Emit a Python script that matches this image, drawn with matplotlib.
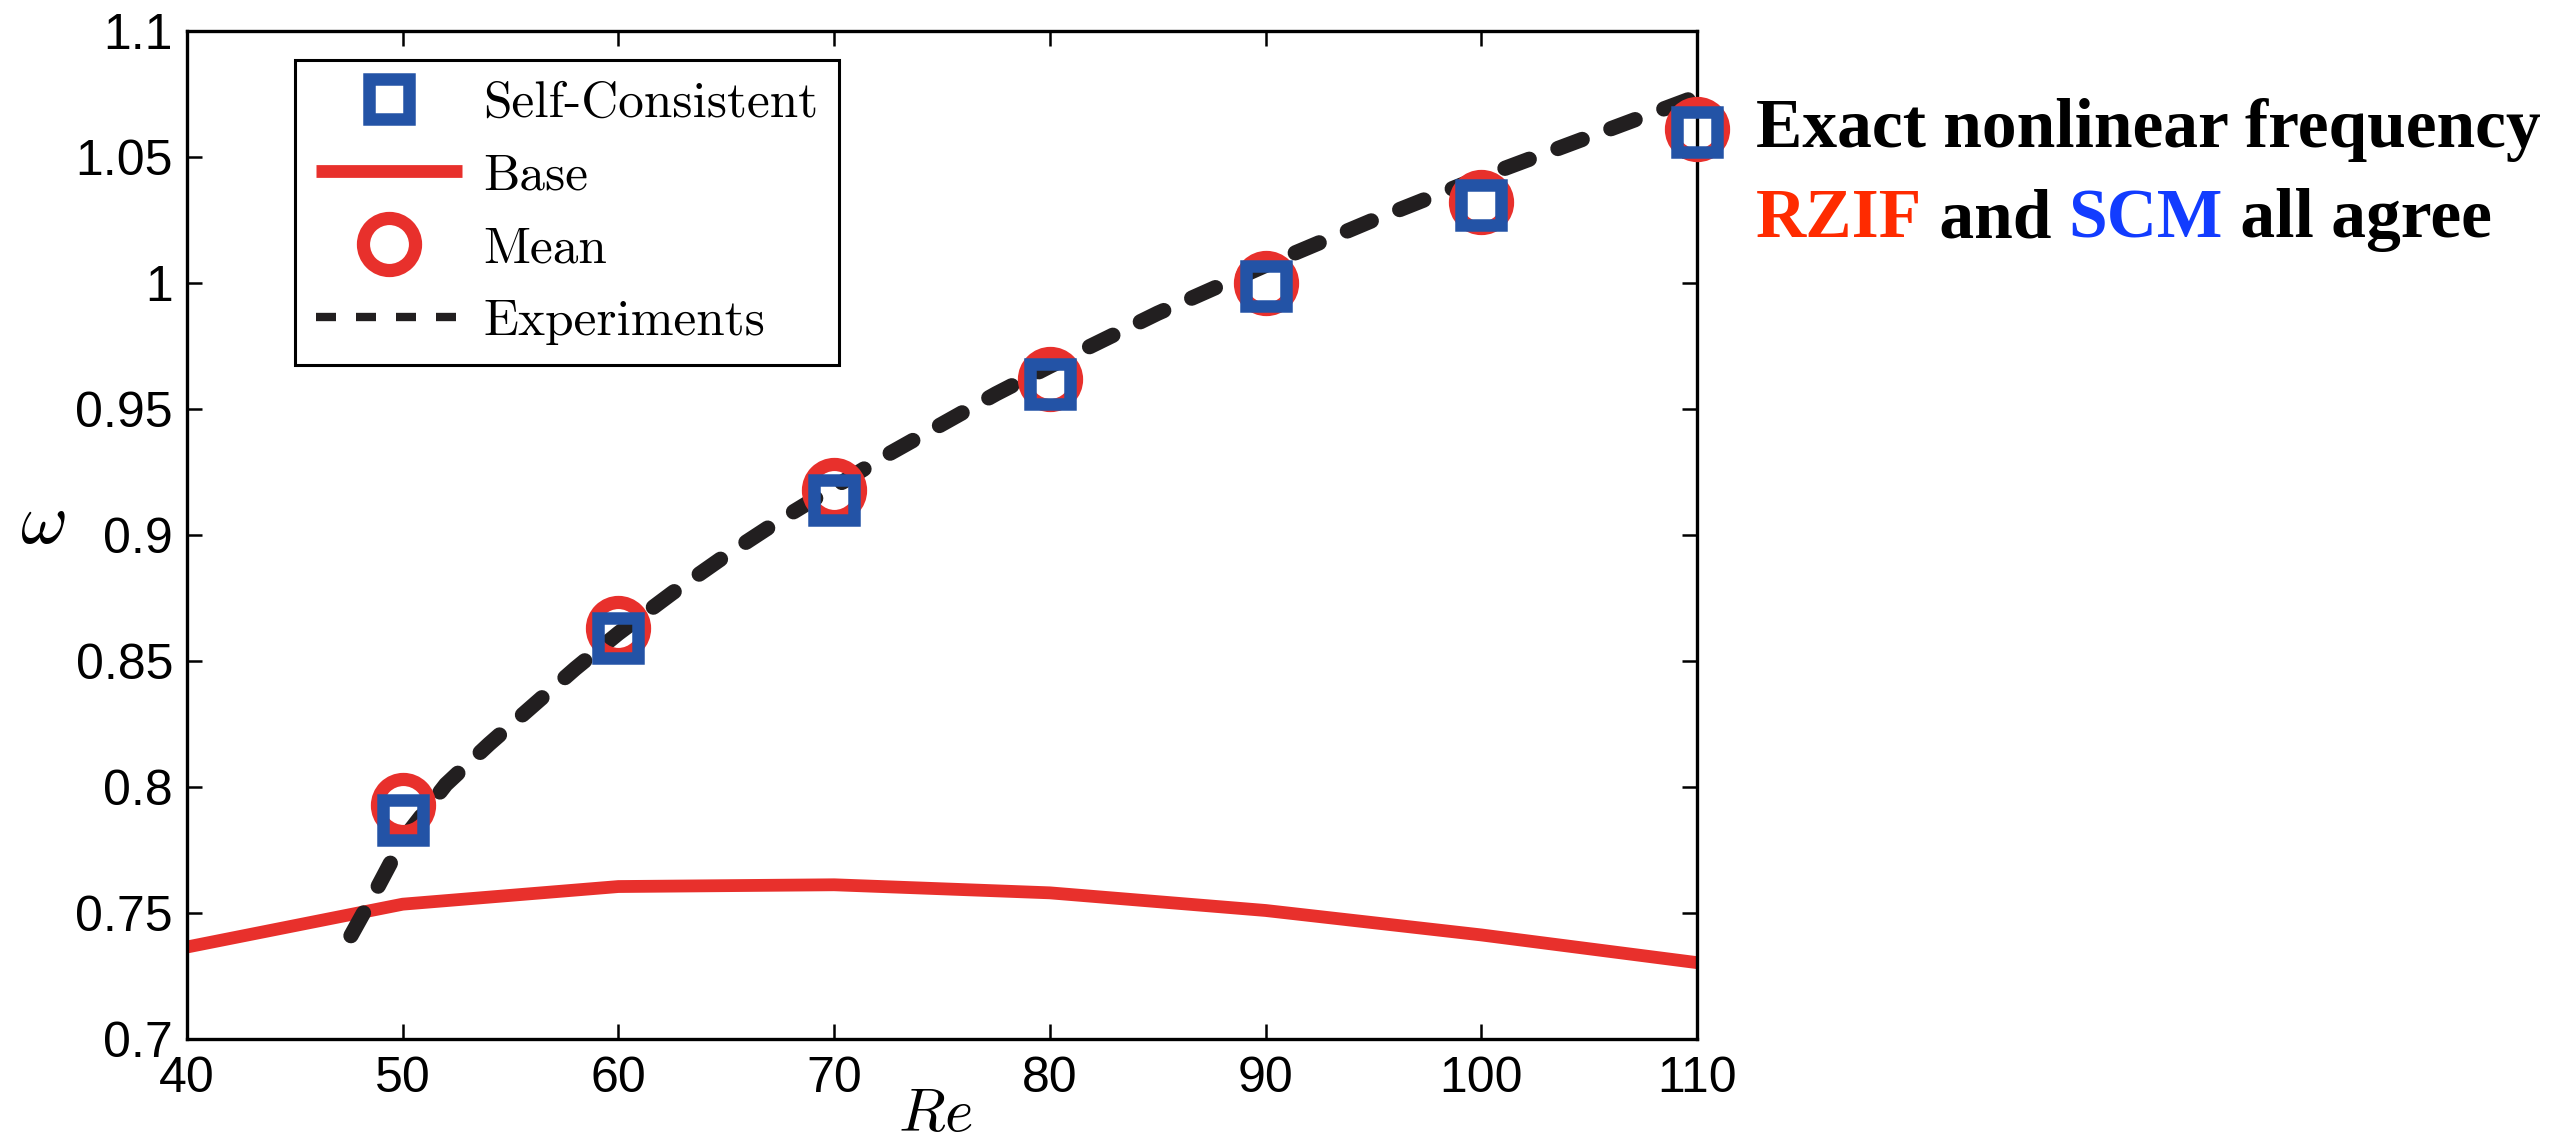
import matplotlib
matplotlib.use("Agg")
import matplotlib.pyplot as plt
from matplotlib.lines import Line2D
from matplotlib.font_manager import FontProperties
from matplotlib.textpath import text_to_path

# ---- data -------------------------------------------------------------
re_pts = [50, 60, 70, 80, 90, 100, 110]
scm_w = [0.787, 0.859, 0.914, 0.960, 0.999, 1.031, 1.060]     # Self-Consistent
mean_w = [0.793, 0.863, 0.918, 0.962, 1.000, 1.032, 1.061]    # Mean

re_base = [40, 50, 60, 70, 80, 90, 100, 110]
base_w = [0.7365, 0.7535, 0.7605, 0.7612, 0.7580, 0.7510, 0.7413, 0.7303]

exp_re = [47.6, 48.7, 50, 52, 54, 56, 58, 60, 62.5, 65, 67.5, 70, 72.5,
          75, 77.5, 80, 85, 90, 95, 100, 105, 110]
exp_w = [0.741, 0.758, 0.779, 0.801, 0.817, 0.832, 0.847, 0.861, 0.877,
         0.892, 0.906, 0.919, 0.932, 0.944, 0.956, 0.967, 0.988, 1.007,
         1.025, 1.042, 1.058, 1.074]

x_ticks = [40, 50, 60, 70, 80, 90, 100, 110]
y_ticks = [0.7, 0.75, 0.8, 0.85, 0.9, 0.95, 1.0, 1.05, 1.1]
y_tick_labels = ["0.7", "0.75", "0.8", "0.85", "0.9", "0.95", "1", "1.05", "1.1"]

legend_labels = ["Self-Consistent", "Base", "Mean", "Experiments"]

note_line1 = "Exact nonlinear frequency"
note_line2 = [("RZIF", "#ff2b00"), (" and ", "black"), ("SCM", "#123cff"),
              (" all agree", "black")]

# ---- style ------------------------------------------------------------
RED = "#e8302c"
BLUE = "#2353a6"
DARK = "#221f20"

plt.rcParams["font.family"] = ["Liberation Sans", "DejaVu Sans"]
plt.rcParams["mathtext.fontset"] = "cm"

W, H = 2575, 1148
DPI = 100
fig = plt.figure(figsize=(W / DPI, H / DPI), dpi=DPI)
ax = fig.add_axes([187 / W, 109 / H, 1510 / W, 1008 / H])

base_line, = ax.plot(re_base, base_w, color=RED, lw=9.2,
                     solid_joinstyle="round", solid_capstyle="butt", zorder=2)
ax.plot(exp_re, exp_w, color=DARK, lw=11.0, dashes=(1.7, 2.0),
        dash_capstyle="round", zorder=3)
mean_mk, = ax.plot(re_pts, mean_w, ls="none", marker="o", ms=37.5,
                   mfc="none", mec=RED, mew=9.5, zorder=4, clip_on=False)
scm_mk, = ax.plot(re_pts, scm_w, ls="none", marker="s", ms=29.5,
                  mfc="none", mec=BLUE, mew=9.0, zorder=5, clip_on=False)

ax.set_xlim(40, 110)
ax.set_ylim(0.7, 1.1)
ax.set_xticks(x_ticks)
ax.set_yticks(y_ticks)
ax.set_yticklabels(y_tick_labels)

ax.tick_params(direction="in", length=11, width=1.8, top=True, right=True,
               labelsize=36)
ax.tick_params(axis="y", pad=10)
ax.tick_params(axis="x", pad=12)
for sp in ax.spines.values():
    sp.set_linewidth(2.4)
    sp.set_color("black")

# axis labels
fig.text(43 / W, 1 - 525 / H, r"$\omega$", fontsize=52,
         ha="center", va="center")
fig.text(935 / W, 1 - 1115 / H, r"$Re$", fontsize=44,
         ha="center", va="center")

# legend (the dashed key is drawn with a lighter square-ended stroke)
exp_key = Line2D([], [], color=DARK, lw=6.0, dashes=(2.4, 2.4),
                 dash_capstyle="butt")
handles = [scm_mk, base_line, mean_mk, exp_key]
leg = ax.legend(handles, legend_labels, loc="upper left",
                bbox_to_anchor=(0.0715, 0.971), borderaxespad=0,
                prop={"family": "cmr10", "size": 37}, numpoints=1,
                handlelength=2.85, handletextpad=0.42, labelspacing=0.52,
                borderpad=0.4, fancybox=False, framealpha=1)
leg.get_frame().set_edgecolor("black")
leg.get_frame().set_linewidth(2.2)

# side note
note_font = FontProperties(family="Liberation Serif", weight="bold", size=50)
fig.text(1756 / W, 1 - 147 / H, note_line1, fontproperties=note_font,
         color="black", ha="left", va="baseline")

# second line: coloured pieces laid side by side on one baseline
x_px = 1756.0
for txt, col in note_line2:
    fig.text(x_px / W, 1 - 237 / H, txt, fontproperties=note_font,
             color=col, ha="left", va="baseline")
    w_pt, _, _ = text_to_path.get_text_width_height_descent(
        txt, note_font, ismath=False)
    x_px += w_pt * DPI / 72.0

fig.savefig("out.png", dpi=DPI)
